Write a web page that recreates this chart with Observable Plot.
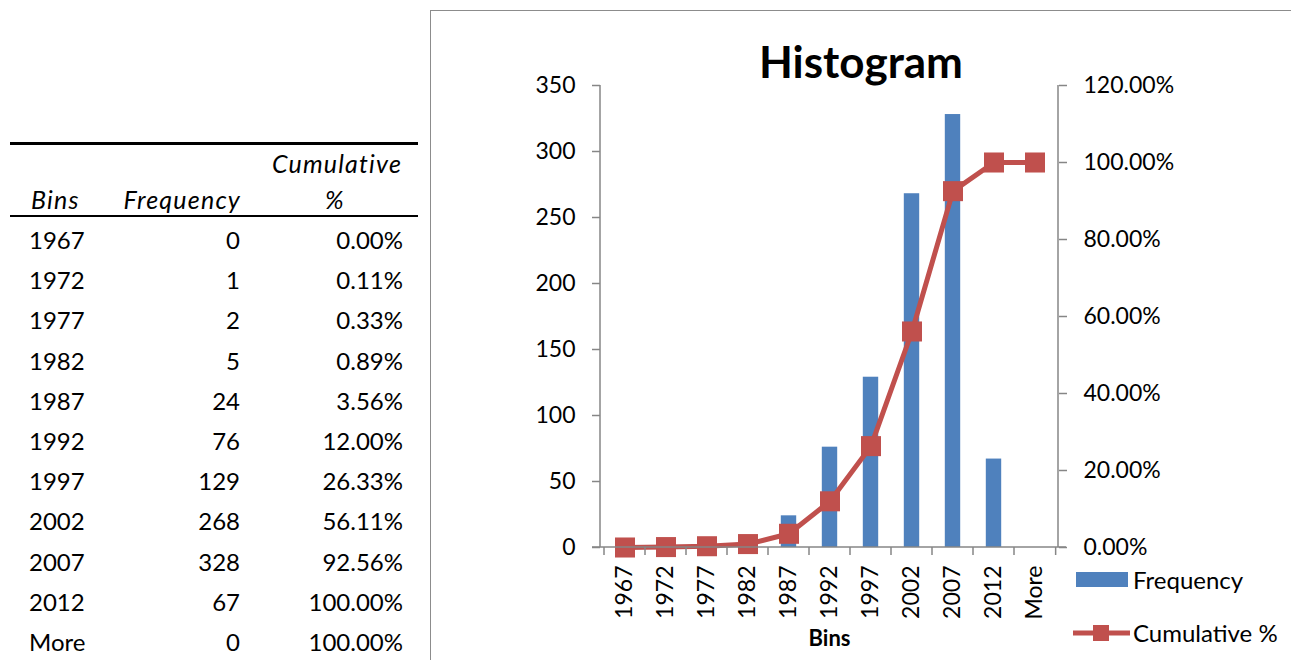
<!DOCTYPE html>
<html>
<head>
<meta charset="utf-8">
<script src="https://cdn.jsdelivr.net/npm/d3@7"></script>
<script src="https://cdn.jsdelivr.net/npm/@observablehq/plot@0.6"></script>
<style>
  html, body { margin: 0; padding: 0; background: #fff; }
  body { width: 1291px; height: 660px; position: relative; overflow: hidden; font-family: Lato, "Open Sans", sans-serif; color: #000; }
  .cell { position: absolute; font-size: 24px; line-height: 30px; height: 30px; white-space: nowrap; }
  .cell.hdr { font-style: italic; font-size: 25px; letter-spacing: 1.2px; }
  .hline { position: absolute; background: #000; }
  #border { position: absolute; left: 430px; top: 10px; width: 900px; height: 700px; border: 1.5px solid #8c8c8c; box-sizing: border-box; }
  #title { position: absolute; left: 661px; width: 400px; top: 36px; text-align: center; font-weight: bold; font-size: 44px; line-height: 50px; }
  #chart { position: absolute; left: 0; top: 0; }
  .leg { position: absolute; font-size: 24px; line-height: 30px; white-space: nowrap; }
</style>
</head>
<body>
<div id="border"></div>
<div id="table"></div>
<div id="title">Histogram</div>
<div id="chart"></div>
<div class="leg" style="left:1076px; top:565px;"><svg width="52" height="30" style="vertical-align:top"><rect x="0" y="7" width="52" height="15" fill="#4F81BD"></rect></svg></div>
<div class="leg" style="left:1133px; top:565px;">Frequency</div>
<div class="leg" style="left:1073px; top:618px;"><svg width="57" height="30" style="vertical-align:top"><line x1="0" x2="57" y1="15" y2="15" stroke="#C0504D" stroke-width="5"></line><rect x="20" y="7" width="16" height="16" fill="#C0504D"></rect></svg></div>
<div class="leg" style="left:1133px; top:618px;">Cumulative %</div>
<script>
const bins = ["1967","1972","1977","1982","1987","1992","1997","2002","2007","2012","More"];
const frequency = [0, 1, 2, 5, 24, 76, 129, 268, 328, 67, 0];
const cumulative = [0.00, 0.11, 0.33, 0.89, 3.56, 12.00, 26.33, 56.11, 92.56, 100.00, 100.00];
const leftTicks = [0, 50, 100, 150, 200, 250, 300, 350];
const rightTicks = [0, 20, 40, 60, 80, 100, 120];
const headers = ["Bins", "Frequency", "Cumulative", "%"];

const data = bins.map((b, i) => ({bin: b, freq: frequency[i], cum: cumulative[i]}));

// ---- table ----
const tbl = document.getElementById("table");
function cell(text, x, y, align, header) {
  const d = document.createElement("div");
  d.className = header ? "cell hdr" : "cell";
  d.textContent = text;
  const w = 200;
  if (align === "left") { d.style.left = x + "px"; }
  else if (align === "right") { d.style.left = (x - w) + "px"; d.style.width = w + "px"; d.style.textAlign = "right"; }
  else { d.style.left = (x - w / 2) + "px"; d.style.width = w + "px"; d.style.textAlign = "center"; }
  d.style.top = (y - 15) + "px";
  tbl.appendChild(d);
}
function hline(y, h) {
  const d = document.createElement("div");
  d.className = "hline";
  d.style.left = "10px"; d.style.width = "408px";
  d.style.top = y + "px"; d.style.height = h + "px";
  tbl.appendChild(d);
}
hline(142, 2.5);
hline(215, 2);
cell(headers[0], 31, 199, "left", true);
cell(headers[1], 241, 199, "right", true);
cell(headers[2], 337, 163, "center", true);
cell(headers[3], 335, 199, "center", true);
data.forEach((d, i) => {
  const y = 240 + 40.2 * i;
  cell(d.bin, 29, y, "left");
  cell(String(d.freq), 240, y, "right");
  cell(d.cum.toFixed(2) + "%", 403, y, "right");
});

// ---- chart ----
const W = 1291, H = 660;
const mL = 600, mR = W - 1058, mT = 85, mB = H - 547;
const yMax = leftTicks[leftTicks.length - 1];
const pMax = rightTicks[rightTicks.length - 1];
const toY = p => p / pMax * yMax;
const axisColor = "#868686";

function axisLines(index, scales, values, dimensions) {
  const {width, height, marginLeft, marginRight, marginTop, marginBottom} = dimensions;
  const x0 = marginLeft, x1 = width - marginRight, y0 = marginTop, y1 = height - marginBottom;
  const bw = (x1 - x0) / bins.length;
  const g = d3.create("svg:g").attr("stroke", axisColor).attr("stroke-width", 1.5).attr("fill", "none");
  g.append("line").attr("x1", x0).attr("x2", x0).attr("y1", y0).attr("y2", y1);
  g.append("line").attr("x1", x1).attr("x2", x1).attr("y1", y0).attr("y2", y1);
  g.append("line").attr("x1", x0 - 8).attr("x2", x1 + 8).attr("y1", y1).attr("y2", y1);
  d3.range(bins.length + 1).forEach(i => {
    const x = scales.x(bins[Math.min(i, bins.length - 1)]) + (i === bins.length ? bw : 0);
    g.append("line").attr("x1", x).attr("x2", x).attr("y1", y1).attr("y2", y1 + 8);
  });
  return g.node();
}

const chart = Plot.plot({
  width: W, height: H,
  marginLeft: mL, marginRight: mR, marginTop: mT, marginBottom: mB,
  style: {fontFamily: "Lato, 'Open Sans', sans-serif", fontSize: "23px", color: "#000", background: "transparent", overflow: "visible"},
  x: {type: "band", domain: bins, padding: 0},
  y: {domain: [0, yMax]},
  marks: [
    Plot.barY(data, {x: "bin", y: "freq", fill: "#4F81BD", insetLeft: 12.8, insetRight: 12.8}),
    Plot.line(data, {x: "bin", y: d => toY(d.cum), stroke: "#C0504D", strokeWidth: 5}),
    Plot.dot(data, {x: "bin", y: d => toY(d.cum), symbol: "square", r: 11.3, fill: "#C0504D", stroke: null}),
    axisLines,
    Plot.axisY({anchor: "left", ticks: leftTicks, tickSize: 8, tickPadding: 17, stroke: axisColor, strokeWidth: 1.5, label: null, fill: "#000"}),
    Plot.axisY({anchor: "right", ticks: rightTicks.map(toY), tickFormat: v => (v / yMax * pMax).toFixed(2) + "%", tickSize: 8, tickPadding: 17, stroke: axisColor, strokeWidth: 1.5, label: null, fill: "#000"}),
    Plot.axisX({tickSize: 0, tickRotate: -90, tickPadding: 18, label: null, fill: "#000"}),
    Plot.text(["Bins"], {text: d => d, frameAnchor: "bottom", dy: 98, fontWeight: "bold", fontSize: 22})
  ]
});
document.getElementById("chart").appendChild(chart);
</script>
</body>
</html>
